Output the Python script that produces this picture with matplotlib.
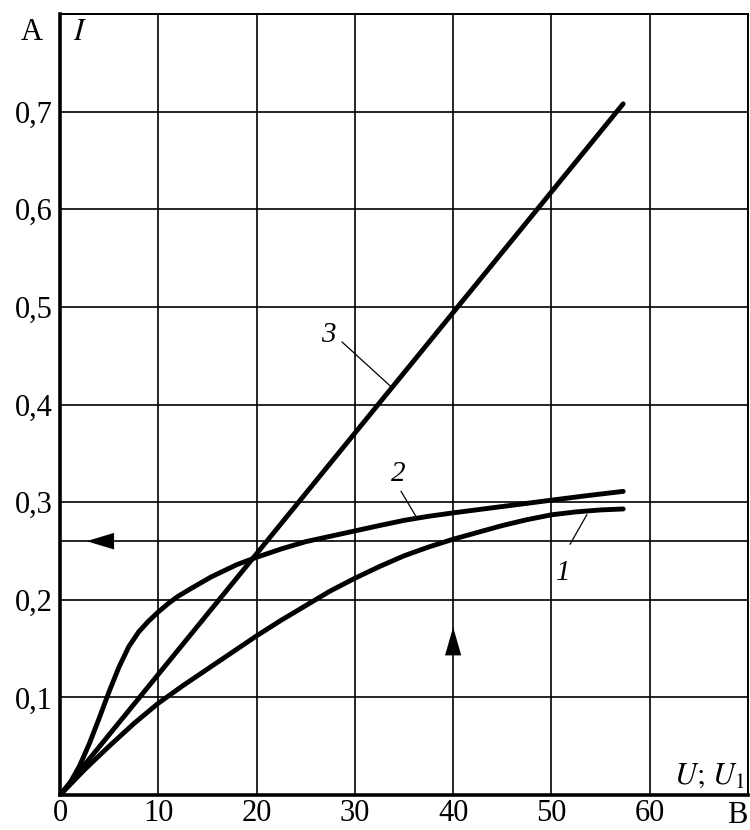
import matplotlib
matplotlib.use("Agg")
import matplotlib.pyplot as plt

# (U in volts, I in amperes)
u_line3 = [0, 57.3]
i_line3 = [0, 0.708]

u_curve2 = [0, 1, 2, 3, 4, 5, 6, 7, 8, 9, 10, 11, 12, 13.5, 15.4, 18, 20, 22.5, 25, 27.5, 30,
            32.5, 35, 37.5, 40, 45, 50, 53.5, 57.3]
i_curve2 = [0, 0.012, 0.030, 0.053, 0.079, 0.106, 0.131, 0.152, 0.167, 0.178, 0.1875, 0.196, 0.2035,
            0.2125, 0.2235, 0.236, 0.2435, 0.252, 0.2595, 0.265, 0.2705, 0.276, 0.2813, 0.2855, 0.289,
            0.2955, 0.302, 0.3065, 0.311]

u_curve1 = [0, 2.5, 5, 7.5, 10, 12.5, 15, 17.5, 20, 22.5, 25, 27.5, 30, 32.5, 35, 37.5, 40, 42.5, 45, 47.5,
            50, 52.5, 55, 57.3]
i_curve1 = [0, 0.026, 0.050, 0.073, 0.094, 0.112, 0.129, 0.146, 0.163, 0.179, 0.194, 0.209, 0.222, 0.234,
            0.245, 0.254, 0.262, 0.269, 0.276, 0.282, 0.287, 0.290, 0.292, 0.293]

x_ticks = [0, 10, 20, 30, 40, 50, 60, 70]
x_labels = ["0", "10", "20", "30", "40", "50", "60", ""]
y_ticks = [0.1, 0.2, 0.3, 0.4, 0.5, 0.6, 0.7, 0.8]
y_labels = ["0,1", "0,2", "0,3", "0,4", "0,5", "0,6", "0,7", ""]

i_marker = 0.26   # horizontal reference line with arrow
u_marker = 40     # vertical arrow position

# curve labels: (text, label pos, leader start, leader end)
labels = [
    ("3", (27.3, 0.471), (28.7, 0.464), (33.6, 0.419)),
    ("2", (34.4, 0.329), (34.7, 0.311), (36.3, 0.284)),
    ("1", (51.2, 0.227), (51.9, 0.257), (53.6, 0.287)),
]

plt.rcParams['font.family'] = ['Liberation Serif', 'DejaVu Serif']
plt.rcParams['mathtext.fontset'] = 'stix'

fig = plt.figure(figsize=(7.5, 8.3), dpi=100)
ax = fig.add_axes([60 / 750, 35 / 830, 688 / 750, 781 / 830])

ax.set_xlim(0, 70)
ax.set_ylim(0, 0.8)
ax.set_xticks(x_ticks)
ax.set_xticklabels(x_labels)
ax.set_yticks(y_ticks)
ax.set_yticklabels(y_labels)
ax.tick_params(length=0, labelsize=22, colors='black')
ax.tick_params(axis='y', pad=5)
ax.tick_params(axis='x', pad=3)
ax.grid(True, color='black', lw=1.2)
ax.set_axisbelow(True)

for side in ['left', 'bottom']:
    ax.spines[side].set_linewidth(2.6)
for side in ['top', 'right']:
    ax.spines[side].set_linewidth(1.4)

lw = 3.5
ax.plot(u_line3, i_line3, color='black', lw=lw, solid_capstyle='round')
ax.plot(u_curve2, i_curve2, color='black', lw=lw, solid_capstyle='round', solid_joinstyle='round')
ax.plot(u_curve1, i_curve1, color='black', lw=lw, solid_capstyle='round', solid_joinstyle='round')

# marker line at I = 0,26 and arrows
ax.axhline(i_marker, color='black', lw=1.2, zorder=1)
ax.arrow(5.5, i_marker, -2.8, 0, width=0, head_width=0.017, head_length=2.8,
         length_includes_head=True, color='black', lw=0)
ax.arrow(u_marker, 0.143, 0, 0.029, width=0, head_width=1.65, head_length=0.029,
         length_includes_head=True, color='black', lw=0)

for txt, pos, p0, p1 in labels:
    ax.text(pos[0], pos[1], txt, fontsize=21, style='italic', ha='center', va='center')
    ax.plot([p0[0], p1[0]], [p0[1], p1[1]], color='black', lw=0.9)

ax.text(-2.85, 0.781, "A", fontsize=22, ha='center', va='center', clip_on=False)
ax.text(2.0, 0.781, "$I$", fontsize=22, ha='center', va='center')
ax.text(69.7, 0.019, "$U;\\,U_{\\mathrm{1}}$", fontsize=22, ha='right', va='center')
ax.text(68.9, -0.021, "B", fontsize=22, ha='center', va='center', clip_on=False)

fig.savefig("out.png", dpi=100)
